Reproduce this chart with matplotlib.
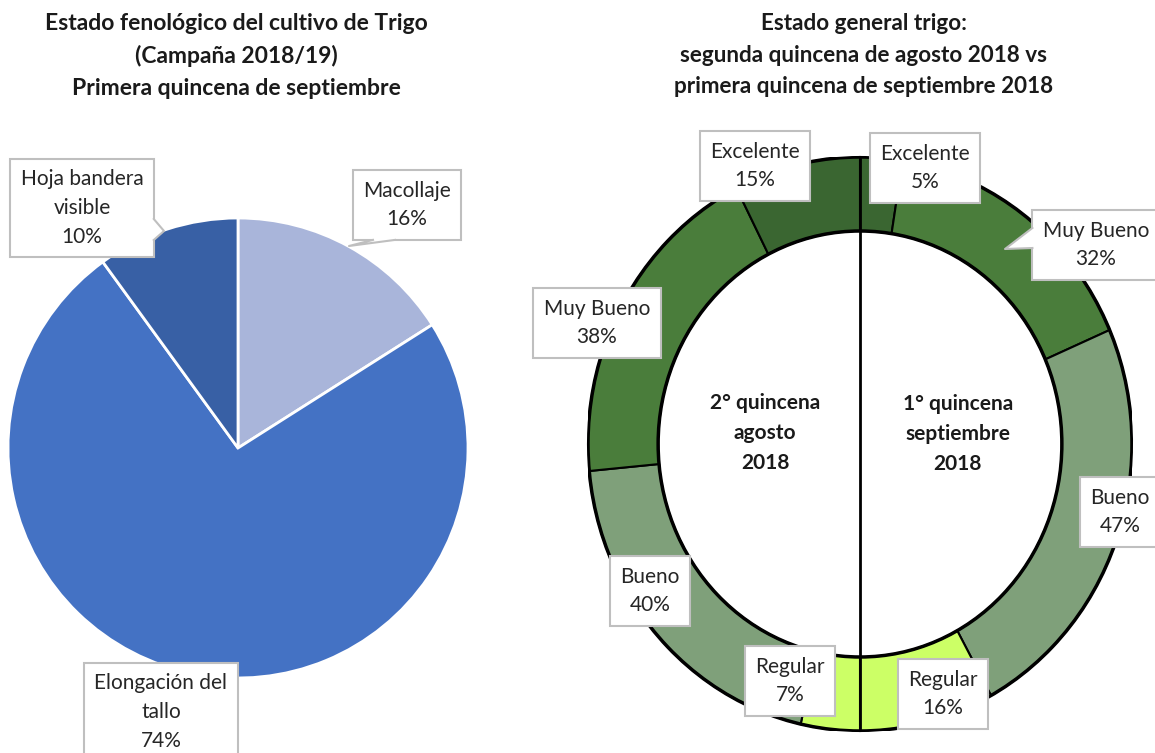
import matplotlib
matplotlib.use("Agg")
import matplotlib.pyplot as plt
from matplotlib.patches import Circle, Polygon
from matplotlib.lines import Line2D

plt.rcParams['font.family'] = ['Lato', 'DejaVu Sans']

# ---------------- data ----------------
fen_labels = ['Macollaje', 'Elongación del\ntallo', 'Hoja bandera\nvisible']
fen_values = [16, 74, 10]
fen_colors = ['#A9B5DA', '#4472C4', '#3860A5']

estados = ['Excelente', 'Muy Bueno', 'Bueno', 'Regular']
estado_colors = ['#3A6631', '#4A7D3B', '#7FA07A', '#CCFF66']
sept_values = [5, 32, 47, 16]      # 1° quincena septiembre 2018 (right half)
agosto_values = [15, 38, 40, 7]    # 2° quincena agosto 2018 (left half)

title_left = 'Estado fenológico del cultivo de Trigo\n(Campaña 2018/19)\nPrimera quincena de septiembre'
title_right = 'Estado general trigo:\nsegunda quincena de agosto 2018 vs\nprimera quincena de septiembre 2018'
center_left = '2° quincena\nagosto\n2018'
center_right = '1° quincena\nseptiembre\n2018'

# ---------------- layout ----------------
W, H = 1155, 753
fig = plt.figure(figsize=(W / 100, H / 100), dpi=100)


def fx(x):
    return x / W


def fy(y):
    return 1 - y / H


def add_ax(cx, cy, rx, ry):
    return fig.add_axes([fx(cx - rx), fy(cy + ry), 2 * rx / W, 2 * ry / H])


box = dict(boxstyle='square,pad=0.5', fc='white', ec='#BFBFBF', lw=1.5)
lab_fs = 15
lab_ls = 1.56
lab_col = '#262626'

# Left pie
ax1 = add_ax(238, 448, 230, 230)
ax1.pie(fen_values, colors=fen_colors, startangle=90, counterclock=False,
        radius=1, wedgeprops=dict(edgecolor='white', linewidth=2))
ax1.set_xlim(-1, 1)
ax1.set_ylim(-1, 1)
ax1.set_aspect('auto')
ax1.axis('off')

fen_pos = [(407, 205), (161, 712), (82, 208)]
fen_texts = []
for lab, v, (x, y) in zip(fen_labels, fen_values, fen_pos):
    fen_texts.append(fig.text(fx(x), fy(y), f'{lab}\n{v}%', ha='center', va='center',
                              fontsize=lab_fs, color=lab_col, linespacing=lab_ls, bbox=box))

fig.text(fx(236), fy(56), title_left, ha='center', va='center',
         fontsize=16.5, fontweight='bold', color='#1a1a1a', linespacing=1.63)

# Right donut: right half = septiembre (clockwise from top), left half = agosto (clockwise from bottom)
ax2 = add_ax(860, 444, 272, 287)
vals = sept_values + agosto_values[::-1]
cols = estado_colors + estado_colors[::-1]
ax2.pie(vals, colors=cols, startangle=90, counterclock=False, radius=1,
        wedgeprops=dict(width=1 - 213 / 287, edgecolor='black', linewidth=1.5))
ax2.add_patch(Circle((0, 0), 1, fill=False, ec='black', lw=2.5))
ax2.add_patch(Circle((0, 0), 213 / 287, fill=False, ec='black', lw=2.5))
ax2.plot([0, 0], [-1, 1], color='black', lw=2)
ax2.set_xlim(-1, 1)
ax2.set_ylim(-1, 1)
ax2.set_aspect('auto')
ax2.axis('off')

sept_pos = [(925, 168), (1096, 245), (1120, 512), (943, 694)]
ago_pos = [(755, 166), (597, 323), (650, 591), (790, 681)]
sept_texts = []
for e, v, (x, y) in zip(estados, sept_values, sept_pos):
    sept_texts.append(fig.text(fx(x), fy(y), f'{e}\n{v}%', ha='center', va='center',
                               fontsize=lab_fs, color=lab_col, linespacing=lab_ls, bbox=box))
for e, v, (x, y) in zip(estados, agosto_values, ago_pos):
    fig.text(fx(x), fy(y), f'{e}\n{v}%', ha='center', va='center',
             fontsize=lab_fs, color=lab_col, linespacing=lab_ls, bbox=box)

fig.text(fx(765), fy(433), center_left, ha='center', va='center',
         fontsize=15, fontweight='bold', color='#1a1a1a', linespacing=1.65)
fig.text(fx(958), fy(434), center_right, ha='center', va='center',
         fontsize=15, fontweight='bold', color='#1a1a1a', linespacing=1.65)

fig.text(fx(864), fy(55), title_right, ha='center', va='center',
         fontsize=16.2, fontweight='bold', color='#1a1a1a', linespacing=1.63)

# ---------------- callout pointers ----------------
fig.canvas.draw()
renderer = fig.canvas.get_renderer()


def pointer(t, side, a, b, tip):
    ext = t.get_bbox_patch().get_window_extent(renderer)
    x0, x1 = ext.x0, ext.x1
    ytop, ybot = H - ext.y1, H - ext.y0
    d = 2
    if side == 'right':
        p1, p2 = (x1, a), (x1, b)
        i1, i2 = (x1 - d, a), (x1 - d, b)
    elif side == 'left':
        p1, p2 = (x0, a), (x0, b)
        i1, i2 = (x0 + d, a), (x0 + d, b)
    else:  # bottom
        p1, p2 = (a, ybot), (b, ybot)
        i1, i2 = (a, ybot - d), (b, ybot - d)
    pts = [i1, p1, tip, p2, i2]
    fig.add_artist(Polygon([(fx(x), fy(y)) for x, y in pts], closed=True,
                           transform=fig.transFigure, fc='white', ec='none', zorder=10))
    line = [p1, tip, p2]
    fig.add_artist(Line2D([fx(x) for x, _ in line], [fy(y) for _, y in line],
                          transform=fig.transFigure, color='#BFBFBF', lw=1.5, zorder=11))


pointer(fen_texts[2], 'right', 219, 240, (164, 231))
pointer(fen_texts[0], 'bottom', 373, 395, (349, 246))
pointer(sept_texts[1], 'left', 228, 248, (1005, 249))

fig.savefig('out.png', dpi=100)
